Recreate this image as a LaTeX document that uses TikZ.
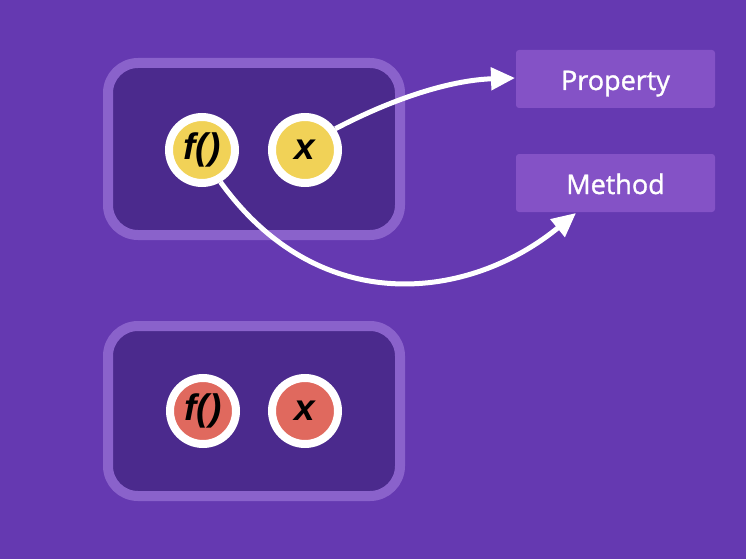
\documentclass[tikz,border=0pt]{standalone}
\usepackage{fontspec}
\setmainfont{Open Sans}
\newfontfamily\tagfont{Open Sans}[FakeBold=1.2]
\newfontfamily\symfont{Liberation Sans}
\usetikzlibrary{arrows.meta}
\definecolor{bgc}{HTML}{6539B1}
\definecolor{innerc}{HTML}{4B2A8D}
\definecolor{borderc}{HTML}{8A62CB}
\definecolor{tagc}{HTML}{8452C6}
\definecolor{yelc}{HTML}{F1D257}
\definecolor{redc}{HTML}{E0695E}
\tikzset{
  objbox/.style={draw=borderc, fill=innerc, line width=10pt, rounded corners=30pt},
  member/.style={circle, draw=white, line width=8pt, minimum size=66pt, inner sep=0pt,
     font=\symfont\bfseries\itshape\fontsize{37}{37}\selectfont, text=black},
  tag/.style={fill=tagc, rounded corners=3pt, minimum width=199pt, minimum height=58pt,
     inner sep=0pt, text=white, text height=28pt, text depth=6pt,
     font=\tagfont\fontsize{27}{27}\selectfont},
  link/.style={draw=white, line width=5pt, -{Triangle[length=24pt,width=22pt]}},
}
\begin{document}
\begin{tikzpicture}[x=1pt,y=-1pt]
\useasboundingbox[fill=bgc] (0,0) rectangle (746,559);
\draw[objbox] (108,63) rectangle (400,235);
\draw[objbox] (108,326) rectangle (400,496);
\node[member, fill=yelc] (f1) at (202,150) {f()};
\node[member, fill=yelc] (x1) at (305,150) {x};
\node[member, fill=redc] (f2) at (203,411) {f()};
\node[member, fill=redc] (x2) at (305,411) {x};
\node[tag] (prop) at (615.5,79) {Property};
\node[tag] (meth) at (615.5,183) {Method};
\coordinate (ptip) at (515,78);
\coordinate (mtip) at (576,213);
\path[link] (x1.35) .. controls (400,95) and (455,80) .. (ptip);
\path[link] (f1.-60) .. controls (320,320) and (470,300) .. (mtip);
\end{tikzpicture}
\end{document}
